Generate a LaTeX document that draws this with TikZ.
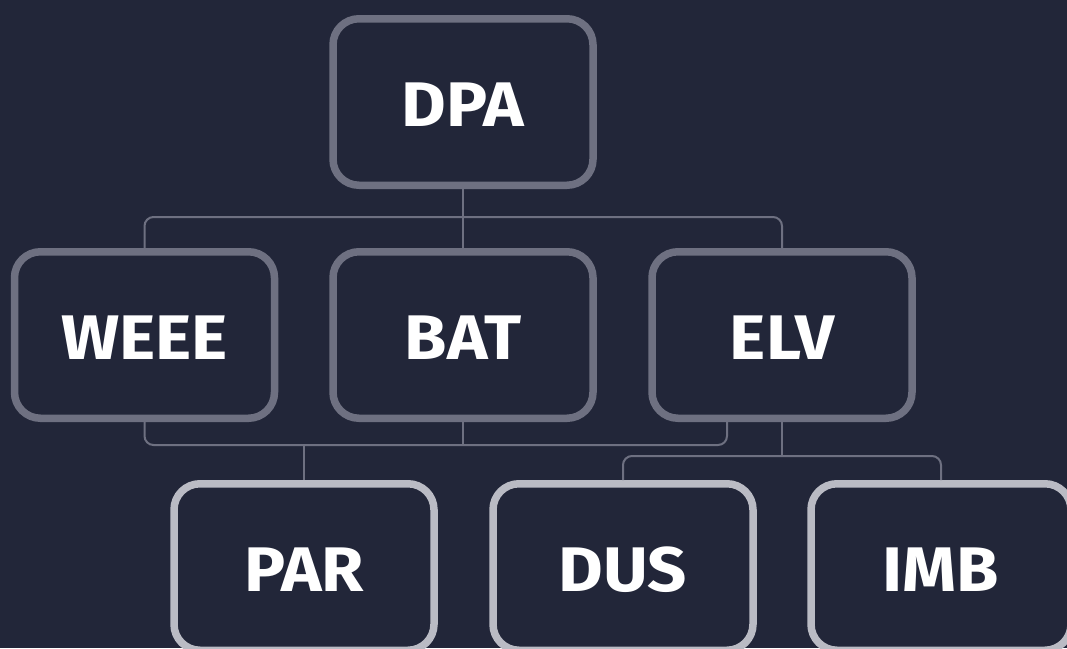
\documentclass[tikz,border=0pt]{standalone}
\usepackage{fontspec}
\setmainfont{Fira Sans}[FakeStretch=1.09]
\definecolor{bg}{HTML}{222639}
\definecolor{edgeA}{HTML}{6E7081}
\definecolor{edgeB}{HTML}{BABBC4}
\definecolor{wire}{HTML}{6E7081}
\tikzset{
  box/.style={draw, line width=7.5pt, rounded corners=26pt, fill=bg,
    minimum width=260pt, minimum height=166.5pt, inner sep=0pt,
    text height=49pt, text depth=0pt,
    text=white, font=\fontsize{63}{63}\selectfont\bfseries},
  upper/.style={box, draw=edgeA},
  lower/.style={box, draw=edgeB},
  wirestyle/.style={draw=wire, line width=2pt, rounded corners=9pt}
}
\begin{document}
\begin{tikzpicture}[x=1pt,y=-1pt]
\fill[bg] (0,0) rectangle (1067,648);
\useasboundingbox (0,0) rectangle (1067,648);
\clip (0,0) rectangle (1067,648);
\node[upper] (dpa) at (463,102) {DPA};
\node[upper] (weee) at (144.5,335) {WEEE};
\node[upper] (bat) at (463,335) {BAT};
\node[upper] (elv) at (782,335) {ELV};
\node[lower] (par) at (304,567) {PAR};
\node[lower] (dus) at (623,567) {DUS};
\node[lower] (imb) at (941,567) {IMB};
% top bus
\draw[wirestyle] (weee.north) -- (144.5,217) -- (782,217) -- (elv.north);
\draw[wirestyle] (dpa.south) -- (bat.north);
% bottom bus
\coordinate (elvl) at (727,422);
\coordinate (parj) at (304,445);
\draw[wirestyle] (weee.south) -- (144.5,445) -- (727,445) -- (elvl);
\draw[wirestyle] (bat.south) -- (463,445);
\draw[wirestyle] (parj) -- (par.north);
% ELV to DUS / IMB
\draw[wirestyle] (elv.south) -- (782,456);
\draw[wirestyle] (dus.north) -- (623,456) -- (941,456) -- (imb.north);
\end{tikzpicture}
\end{document}
